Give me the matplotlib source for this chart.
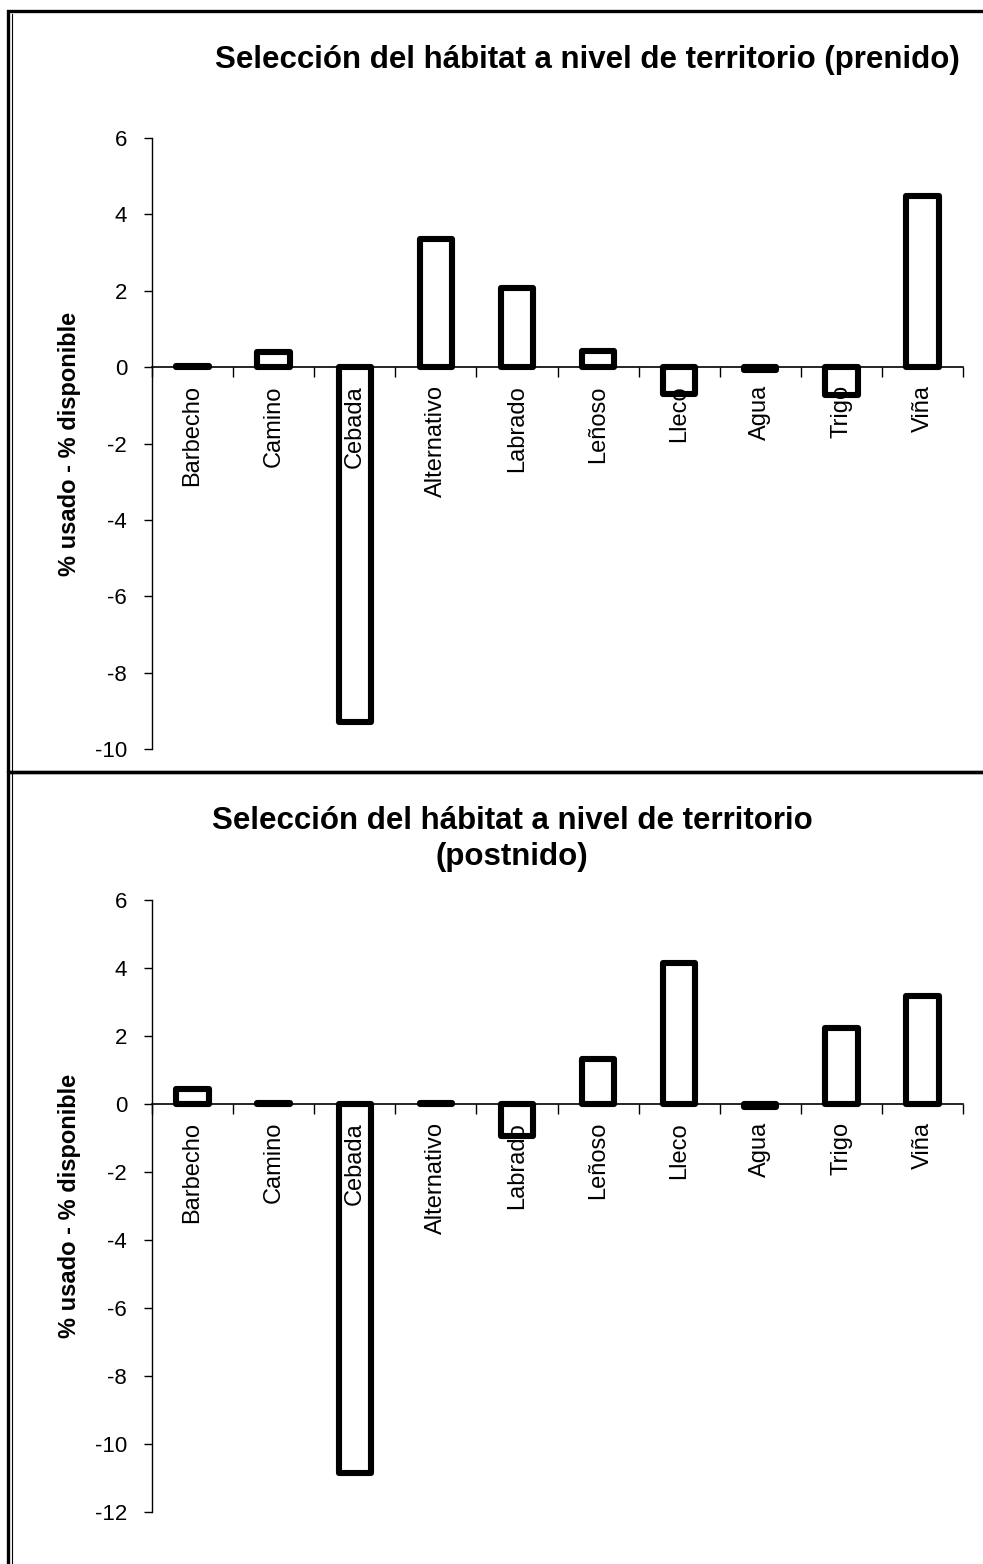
import matplotlib.pyplot as plt
import numpy as np
from matplotlib.patches import Rectangle
from matplotlib.lines import Line2D

plt.rcParams['font.family'] = ['Liberation Sans', 'DejaVu Sans']

categories = ['Barbecho', 'Camino', 'Cebada', 'Alternativo', 'Labrado',
              'Leñoso', 'Lleco', 'Agua', 'Trigo', 'Viña']
prenido = [0.04, 0.4, -9.3, 3.35, 2.07, 0.42, -0.7, -0.07, -0.72, 4.47]
postnido = [0.45, 0.04, -10.85, 0.04, -0.94, 1.32, 4.14, -0.1, 2.25, 3.19]

title_pre = 'Selección del hábitat a nivel de territorio (prenido)'
title_post = 'Selección del hábitat a nivel de territorio\n(postnido)'
ylabel = '% usado - % disponible'

W, H = 983, 1564
fig = plt.figure(figsize=(W / 100, H / 100), dpi=100)


def px_box(x0, x1, ytop, ybot):
    return [x0 / W, 1 - ybot / H, (x1 - x0) / W, (ybot - ytop) / H]


def draw_panel(ax, values, ylim, yticks):
    x = np.arange(len(categories))
    # white fill under the labels, black outline above them (as in the source)
    ax.bar(x, values, width=0.4, facecolor='white', edgecolor='none', zorder=1)
    ax.bar(x, values, width=0.4, facecolor='none', edgecolor='black',
           linewidth=4.4, joinstyle='round', clip_on=False, zorder=3)
    ax.set_xlim(-0.5, len(categories) - 0.5)
    ax.set_ylim(*ylim)
    ax.set_yticks(yticks)
    ax.set_yticklabels([str(t) for t in yticks], fontsize=16)
    ax.tick_params(axis='y', direction='out', length=6, width=1, pad=12)
    for s in ['top', 'right']:
        ax.spines[s].set_visible(False)
    ax.spines['left'].set_linewidth(1)
    ax.spines['bottom'].set_position(('data', 0))
    ax.spines['bottom'].set_linewidth(1.2)
    ax.set_xticks(x)
    ax.set_xticklabels(categories, rotation=90, fontsize=17)
    ax.tick_params(axis='x', which='major', length=0, pad=13)
    ax.set_xticks(np.arange(len(categories) + 1) - 0.5, minor=True)
    ax.tick_params(axis='x', which='minor', direction='out', length=7, width=1)
    ax.set_ylabel(ylabel, fontsize=17, fontweight='bold', labelpad=10)


ax1 = fig.add_axes(px_box(152, 963, 138, 749))
draw_panel(ax1, prenido, (-10, 6), list(range(-10, 7, 2)))
fig.text(587 / W, 1 - 60 / H, title_pre, ha='center', va='center',
         fontsize=22.5, fontweight='bold')

ax2 = fig.add_axes(px_box(152, 963, 900, 1512))
draw_panel(ax2, postnido, (-12, 6), list(range(-12, 7, 2)))
fig.text(512 / W, 1 - 839 / H, title_post, ha='center', va='center',
         fontsize=22.5, fontweight='bold', linespacing=1.3)

# panel frames
for ytop, ybot in [(11, 772), (772, 1600)]:
    fig.add_artist(Rectangle((8 / W, 1 - ybot / H), (1000 - 8) / W,
                             (ybot - ytop) / H, transform=fig.transFigure,
                             fill=False, edgecolor='black', linewidth=2.4))
fig.add_artist(Line2D([12 / W, 12 / W], [1 - 14 / H, 0], transform=fig.transFigure,
                      color='black', linewidth=0.8))

fig.savefig('out.png', dpi=100)
